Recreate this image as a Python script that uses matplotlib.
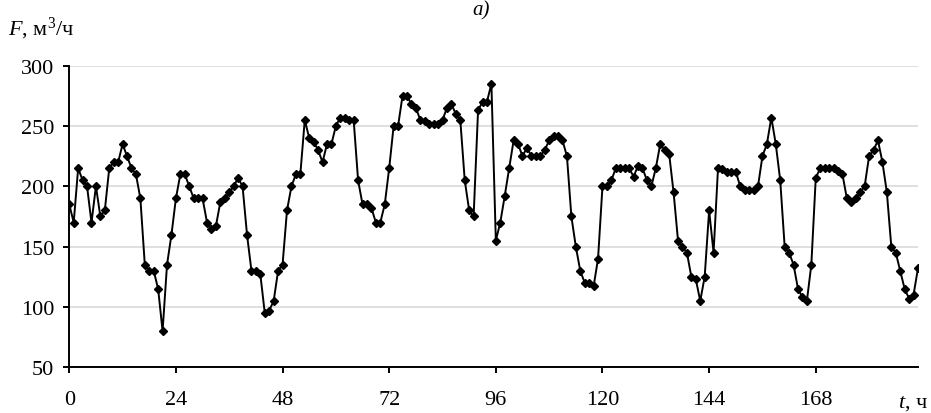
import matplotlib
matplotlib.use('Agg')
import matplotlib.pyplot as plt
import numpy as np

# hourly flow, one list per day (m3/h)
day1 = [185, 170, 215, 205, 200, 170, 200, 175, 180, 215, 220, 220,
        235, 225, 215, 210, 190, 135, 130, 130, 115, 80, 135, 160]
day2 = [190, 210, 210, 200, 190, 190, 190, 170, 165, 167, 187, 190,
        195, 200, 207, 200, 160, 130, 130, 127, 95, 97, 105, 130]
day3 = [135, 180, 200, 210, 210, 255, 240, 237, 230, 220, 235, 235,
        250, 257, 257, 255, 255, 205, 185, 185, 182, 170, 170, 185]
day4 = [215, 250, 250, 275, 275, 268, 265, 255, 254, 252, 252, 252,
        255, 265, 268, 260, 255, 205, 180, 175, 263, 270, 270, 285]
day5 = [155, 170, 192, 215, 238, 235, 225, 232, 225, 225, 225, 230,
        238, 242, 242, 238, 225, 175, 150, 130, 120, 120, 117, 140]
day6 = [200, 200, 205, 215, 215, 215, 215, 208, 217, 215, 205, 200,
        215, 235, 230, 227, 195, 155, 150, 145, 125, 123, 105, 125]
day7 = [180, 145, 215, 214, 212, 212, 212, 200, 197, 197, 197, 200,
        225, 235, 257, 235, 205, 150, 145, 135, 115, 108, 105, 135]
day8 = [207, 215, 215, 215, 215, 213, 210, 190, 187, 190, 195, 200,
        225, 230, 238, 220, 195, 150, 145, 130, 115, 107, 110, 132]

x_ticks = [0, 24, 48, 72, 96, 120, 144, 168]
y_ticks = [50, 100, 150, 200, 250, 300]

flow = np.array(day1 + day2 + day3 + day4 + day5 + day6 + day7 + day8)
hours = np.arange(len(flow))

plt.rcParams['font.family'] = ['Liberation Serif', 'DejaVu Serif']
plt.rcParams['mathtext.fontset'] = 'custom'
plt.rcParams['mathtext.rm'] = 'Liberation Serif'
plt.rcParams['mathtext.it'] = 'Liberation Serif:italic'

fig = plt.figure(figsize=(9.31, 4.14), dpi=100)
ax = fig.add_axes([0.0744, 0.1104, 0.9116, 0.7286])

ax.plot(hours, flow, color='black', lw=1.4, marker='D', ms=4, zorder=3)

ax.set_xlim(0, hours[-1])
ax.set_ylim(50, 300)
ax.set_xticks(x_ticks)
ax.set_yticks(y_ticks)
ax.yaxis.grid(True, color='#d9d9d9', lw=1.2)
ax.set_axisbelow(True)

for side in ['top', 'right']:
    ax.spines[side].set_visible(False)
for side in ['left', 'bottom']:
    ax.spines[side].set_linewidth(1.4)
ax.tick_params(axis='both', labelsize=16, length=4, width=1.4, color='black')
ax.tick_params(axis='x', pad=12)
ax.tick_params(axis='y', pad=7)

fig.text(8 / 931, 1 - 35 / 414, r'$F$, м$^3$/ч', fontsize=16, va='baseline')
fig.text(898 / 931, 1 - 408 / 414, r'$t$, ч', fontsize=16, va='baseline')
fig.text(481 / 931, 0.998, 'a)', fontsize=15, style='italic',
         ha='center', va='top')

fig.savefig('out.png', dpi=100)
